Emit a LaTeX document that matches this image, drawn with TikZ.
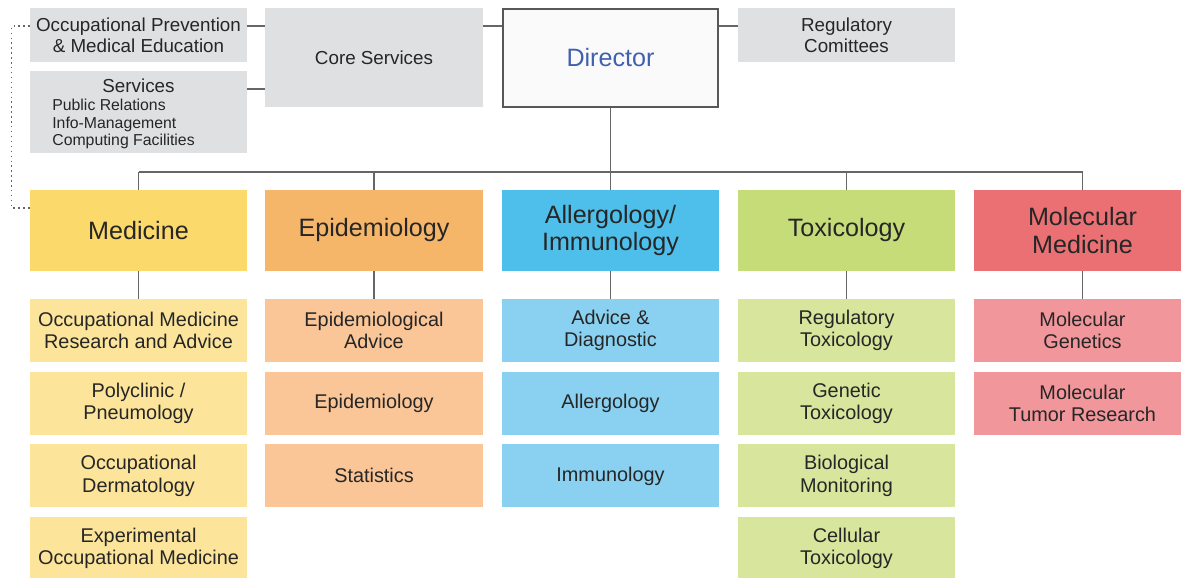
\documentclass[tikz,border=0pt]{standalone}
\usepackage{fontspec}
\setmainfont{Liberation Sans}
\definecolor{medhead}{HTML}{FCD96B}
\definecolor{medsub}{HTML}{FCE59B}
\definecolor{epihead}{HTML}{F6B66A}
\definecolor{episub}{HTML}{FAC597}
\definecolor{allhead}{HTML}{4EBEEA}
\definecolor{allsub}{HTML}{89D0F1}
\definecolor{toxhead}{HTML}{C6DC79}
\definecolor{toxsub}{HTML}{D7E59D}
\definecolor{molhead}{HTML}{EA7074}
\definecolor{molsub}{HTML}{F1969B}
\definecolor{greybox}{HTML}{DFE0E2}
\definecolor{linegray}{HTML}{666666}
\definecolor{dirblue}{HTML}{4060B0}
\tikzset{
	unit/.style={inner sep=0pt, minimum width=4.34cm, align=center, text=black!85},
	head/.style={unit, minimum height=1.62cm, font=\fontsize{14.3}{15.5}\selectfont},
	sub/.style={unit, minimum height=1.26cm, font=\fontsize{11.3}{12.6}\selectfont},
	greyunit/.style={unit, fill=greybox, font=\fontsize{10.7}{11.8}\selectfont},
	link/.style={draw=linegray, line width=1.1pt}
}
\begin{document}
\begin{tikzpicture}[x=0.02cm,y=-0.02cm]
	\useasboundingbox (0,0) rectangle (1181,578);
	% top row
	\node[greyunit, minimum height=1.08cm] (occprev) at (138.5,35) {Occupational Prevention\\ \& Medical Education};
	\node[greyunit, minimum height=1.64cm] (services) at (138.5,112) {};
	\node[inner sep=0pt, text=black!85, font=\fontsize{10.7}{11.8}\selectfont] (svctitle) at (138.5,86) {Services};
	\node[anchor=west, inner sep=0pt, align=left, text=black!85, font=\fontsize{9}{9.9}\selectfont] (svclist) at (52,124) {Public Relations\\Info-Management\\Computing Facilities};
	\node[greyunit, minimum width=4.36cm, minimum height=1.98cm] (core) at (374,57.5) {Core Services};
	\node[unit, minimum width=4.30cm, minimum height=1.96cm, draw=linegray!85!black, line width=1.4pt, fill=gray!4, text=dirblue, font=\fontsize{14.3}{15.5}\selectfont] (director) at (610.5,58) {Director};
	\node[greyunit, minimum height=1.08cm] (regcom) at (846.5,35) {Regulatory\\Comittees};
	% departments
	\node[head, fill=medhead] (med) at (138.5,230.5) {Medicine};
	\node[head, fill=epihead, minimum width=4.36cm] (epi) at (374,230.5) {Epidemiology};
	\node[head, fill=allhead] (allimm) at (610.5,230.5) {Allergology/\\Immunology};
	\node[head, fill=toxhead] (tox) at (846.5,230.5) {Toxicology};
	\node[head, fill=molhead] (molmed) at (1082.5,230.5) {Molecular\\Medicine};
	% units
	\node[sub, fill=medsub] (med1) at (138.5,330.5) {Occupational Medicine\\Research and Advice};
	\node[sub, fill=medsub] (med2) at (138.5,403.2) {Polyclinic /\\Pneumology};
	\node[sub, fill=medsub] (med3) at (138.5,475.9) {Occupational\\Dermatology};
	\node[sub, fill=medsub] (med4) at (138.5,548.6) {Experimental\\Occupational Medicine};
	\node[sub, fill=episub, minimum width=4.36cm] (epi1) at (374,330.5) {Epidemiological\\Advice};
	\node[sub, fill=episub, minimum width=4.36cm] (epi2) at (374,403.2) {Epidemiology};
	\node[sub, fill=episub, minimum width=4.36cm] (epi3) at (374,475.9) {Statistics};
	\node[sub, fill=allsub] (allimm1) at (610.5,330.5) {Advice \&\\Diagnostic};
	\node[sub, fill=allsub] (allimm2) at (610.5,403.2) {Allergology};
	\node[sub, fill=allsub] (allimm3) at (610.5,475.9) {Immunology};
	\node[sub, fill=toxsub] (tox1) at (846.5,330.5) {Regulatory\\Toxicology};
	\node[sub, fill=toxsub] (tox2) at (846.5,403.2) {Genetic\\Toxicology};
	\node[sub, fill=toxsub] (tox3) at (846.5,475.9) {Biological\\Monitoring};
	\node[sub, fill=toxsub] (tox4) at (846.5,548.6) {Cellular\\Toxicology};
	\node[sub, fill=molsub] (molmed1) at (1082.5,330.5) {Molecular\\Genetics};
	\node[sub, fill=molsub] (molmed2) at (1082.5,403.2) {Molecular\\Tumor Research};
	% lines
	\coordinate (toprow) at (0,26);
	\coordinate (svcrow) at (0,89);
	\coordinate (bus) at (0,172);
	\coordinate (dotrow) at (0,208);
	\draw[link] (occprev.east |- toprow) -- (core.west |- toprow);
	\draw[link] (services.east |- svcrow) -- (core.west |- svcrow);
	\draw[link] (core.east |- toprow) -- (director.west |- toprow);
	\draw[link] (director.east |- toprow) -- (regcom.west |- toprow);
	\draw[link] (director.south) -- (director.south |- bus);
	\draw[link] (med.north |- bus) -- (molmed.north |- bus);
	\foreach \dept in {med,epi,allimm,tox,molmed}
		\draw[link] (\dept.north) -- (\dept.north |- bus);
	\draw[link] (med.south) -- (med1.north);
	\draw[link] (epi.south) -- (epi1.north);
	\draw[link] (allimm.south) -- (allimm1.north);
	\draw[link] (tox.south) -- (tox1.north);
	\draw[link] (molmed.south) -- (molmed1.north);
	\draw[linegray, dotted, line width=0.8pt] (occprev.west |- toprow) -- ++(-18,0) |- (med.west |- dotrow);
\end{tikzpicture}
\end{document}
